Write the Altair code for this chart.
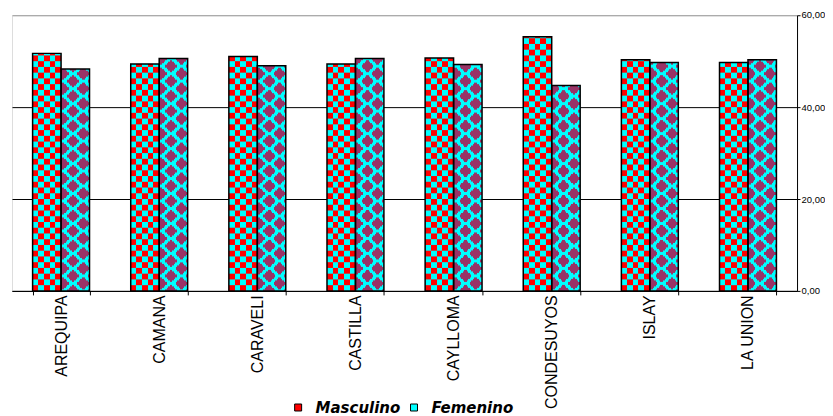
import altair as alt
import pandas as pd

# ---- data ----
provincias = ["AREQUIPA", "CAMANA", "CARAVELI", "CASTILLA", "CAYLLOMA",
              "CONDESUYOS", "ISLAY", "LA UNION"]
masculino = [51.7, 49.4, 51.0, 49.4, 50.7, 55.3, 50.3, 49.7]
femenino = [48.3, 50.6, 49.0, 50.6, 49.3, 44.7, 49.7, 50.3]
series = ["Masculino", "Femenino"]
y_ticks = [0, 20, 40, 60]

rows = []
for p, m, f in zip(provincias, masculino, femenino):
    rows.append({"provincia": p, "serie": "Masculino", "valor": m})
    rows.append({"provincia": p, "serie": "Femenino", "valor": f})
df = pd.DataFrame(rows)

# ---- styles ----
RED = "#ff0000"
CYAN = "#00ffff"
PLUM = "#993366"
PX_PER_UNIT = 276 / 60.0


def stripes(colors):
    n = len(colors)
    stops = []
    for i, c in enumerate(colors):
        stops.append({"offset": i / n, "color": c})
        stops.append({"offset": (i + 1) / n, "color": c})
    return {"gradient": "linear", "x1": 0, "y1": 0, "x2": 1, "y2": 0, "stops": stops}


# checkerboard (Masculino)
ROW = 1.25
check_a = stripes([RED, CYAN, RED, CYAN, RED])
check_b = stripes([CYAN, RED, CYAN, RED, CYAN])

# diamonds (Femenino)
NSUB = 10
VPER_PX = 15.0
SUB = VPER_PX / PX_PER_UNIT / NSUB
HALF_H = 6.6
HALF_W = 0.23
PH = 0.72
C0 = 0.42
centers_a = [C0 - PH, C0, C0 + PH]
centers_b = [C0 - PH / 2, C0 + PH / 2, C0 + 1.5 * PH]


def diamond_grad(k):
    tpx = (k + 0.5) / NSUB * VPER_PX
    d_a = min(tpx, VPER_PX - tpx)
    d_b = abs(tpx - VPER_PX / 2)
    iv = []
    for d, cs in ((d_a, centers_a), (d_b, centers_b)):
        if d < HALF_H:
            h = HALF_W * (1 - d / HALF_H)
            for c in cs:
                lo, hi = max(0.0, c - h), min(1.0, c + h)
                if hi > lo:
                    iv.append((lo, hi))
    iv.sort()
    merged = []
    for lo, hi in iv:
        if merged and lo <= merged[-1][1]:
            merged[-1] = (merged[-1][0], max(hi, merged[-1][1]))
        else:
            merged.append((lo, hi))
    stops = [{"offset": 0, "color": CYAN}]
    for lo, hi in merged:
        stops += [{"offset": lo, "color": CYAN}, {"offset": lo, "color": PLUM},
                  {"offset": hi, "color": PLUM}, {"offset": hi, "color": CYAN}]
    stops.append({"offset": 1, "color": CYAN})
    return {"gradient": "linear", "x1": 0, "y1": 0, "x2": 1, "y2": 0, "stops": stops}


dgrads = [diamond_grad(k) for k in range(NSUB)]

# ---- shared encodings ----
x_enc = alt.X(
    "provincia:N", sort=provincias, title=None,
    scale=alt.Scale(paddingInner=0.42, paddingOuter=0.21),
    axis=alt.Axis(labelAngle=270, labelFont="Liberation Sans", labelFontSize=16,
                  labelColor="black", tickBand="extent", tickSize=4, tickColor="black",
                  domainColor="black", labelPadding=0, grid=False),
)
xo_enc = alt.XOffset("serie:N", sort=series,
                     scale=alt.Scale(domain=series, paddingInner=0, paddingOuter=0))
y_axis = alt.Axis(
    orient="right", values=y_ticks,
    labelExpr="replace(format(datum.value, '.2f'), '.', ',')",
    labelFont="Liberation Sans", labelFontSize=9.5, labelColor="black",
    tickSize=3, tickColor="black", domainColor="black", labelPadding=1,
    labelOffset={"condition": {"test": "datum.value == 60", "value": -1}, "value": 0},
    grid=True,
    gridColor={"condition": {"test": "datum.value == 60", "value": "#999999"}, "value": "#000000"},
)
y_scale = alt.Scale(domain=[0, 60], nice=False)

base = alt.Chart(df)

bars = base.mark_bar(strokeWidth=0).encode(
    x=x_enc, xOffset=xo_enc,
    y=alt.Y("valor:Q", stack=None, scale=y_scale, axis=y_axis, title=None),
    color=alt.Color(
        "serie:N", sort=series,
        scale=alt.Scale(domain=series, range=[RED, CYAN]),
        legend=alt.Legend(
            orient="none", legendX=279, legendY=385, direction="horizontal", title=None,
            symbolType="square", symbolSize=49, symbolStrokeColor="black",
            symbolStrokeWidth=1, labelFont="DejaVu Sans", labelFontSize=15,
            labelFontWeight="bold", labelFontStyle="italic", labelColor="black",
            labelOffset=10, columnPadding=6, padding=0,
        ),
    ),
)

masc_rows = base.transform_filter("datum.serie == 'Masculino'").transform_calculate(
    filas=f"sequence(0, datum.valor, {ROW})"
).transform_flatten(["filas"], as_=["y0"]).transform_calculate(
    y1=f"min(datum.y0 + {ROW * 1.3}, datum.valor)",
    fase=f"round(datum.y0 / {ROW}) % 2",
).mark_bar(strokeWidth=0).encode(
    x=x_enc, xOffset=xo_enc,
    y=alt.Y("y0:Q", scale=y_scale, axis=y_axis, title=None),
    y2="y1:Q",
    fill={"condition": [{"test": "datum.fase == 1", "value": check_b}], "value": check_a},
)

fem_rows = base.transform_filter("datum.serie == 'Femenino'").transform_calculate(
    filas=f"sequence(0, datum.valor, {SUB})"
).transform_flatten(["filas"], as_=["y0"]).transform_calculate(
    y1=f"min(datum.y0 + {SUB * 1.7}, datum.valor)",
    fase=f"round(datum.y0 / {SUB}) % {NSUB}",
).mark_bar(strokeWidth=0).encode(
    x=x_enc, xOffset=xo_enc,
    y=alt.Y("y0:Q", scale=y_scale, axis=y_axis, title=None),
    y2="y1:Q",
    fill={"condition": [{"test": f"datum.fase == {k}", "value": dgrads[k]}
                        for k in range(1, NSUB)],
          "value": dgrads[0]},
)

outline = base.mark_bar(fill="transparent", stroke="#000000", strokeWidth=1.5).encode(
    x=x_enc, xOffset=xo_enc,
    y=alt.Y("valor:Q", stack=None, scale=y_scale, axis=y_axis, title=None),
)

chart = alt.layer(bars, masc_rows, fem_rows, outline).properties(
    width=786, height=276,
    padding={"left": 4, "top": 7, "right": 28, "bottom": 125},
    autosize=alt.AutoSizeParams(type="none"),
).configure_view(stroke="#999999", strokeWidth=1).configure(background="white")

chart.save("out.html", embed_options={"renderer": "svg", "actions": False})
